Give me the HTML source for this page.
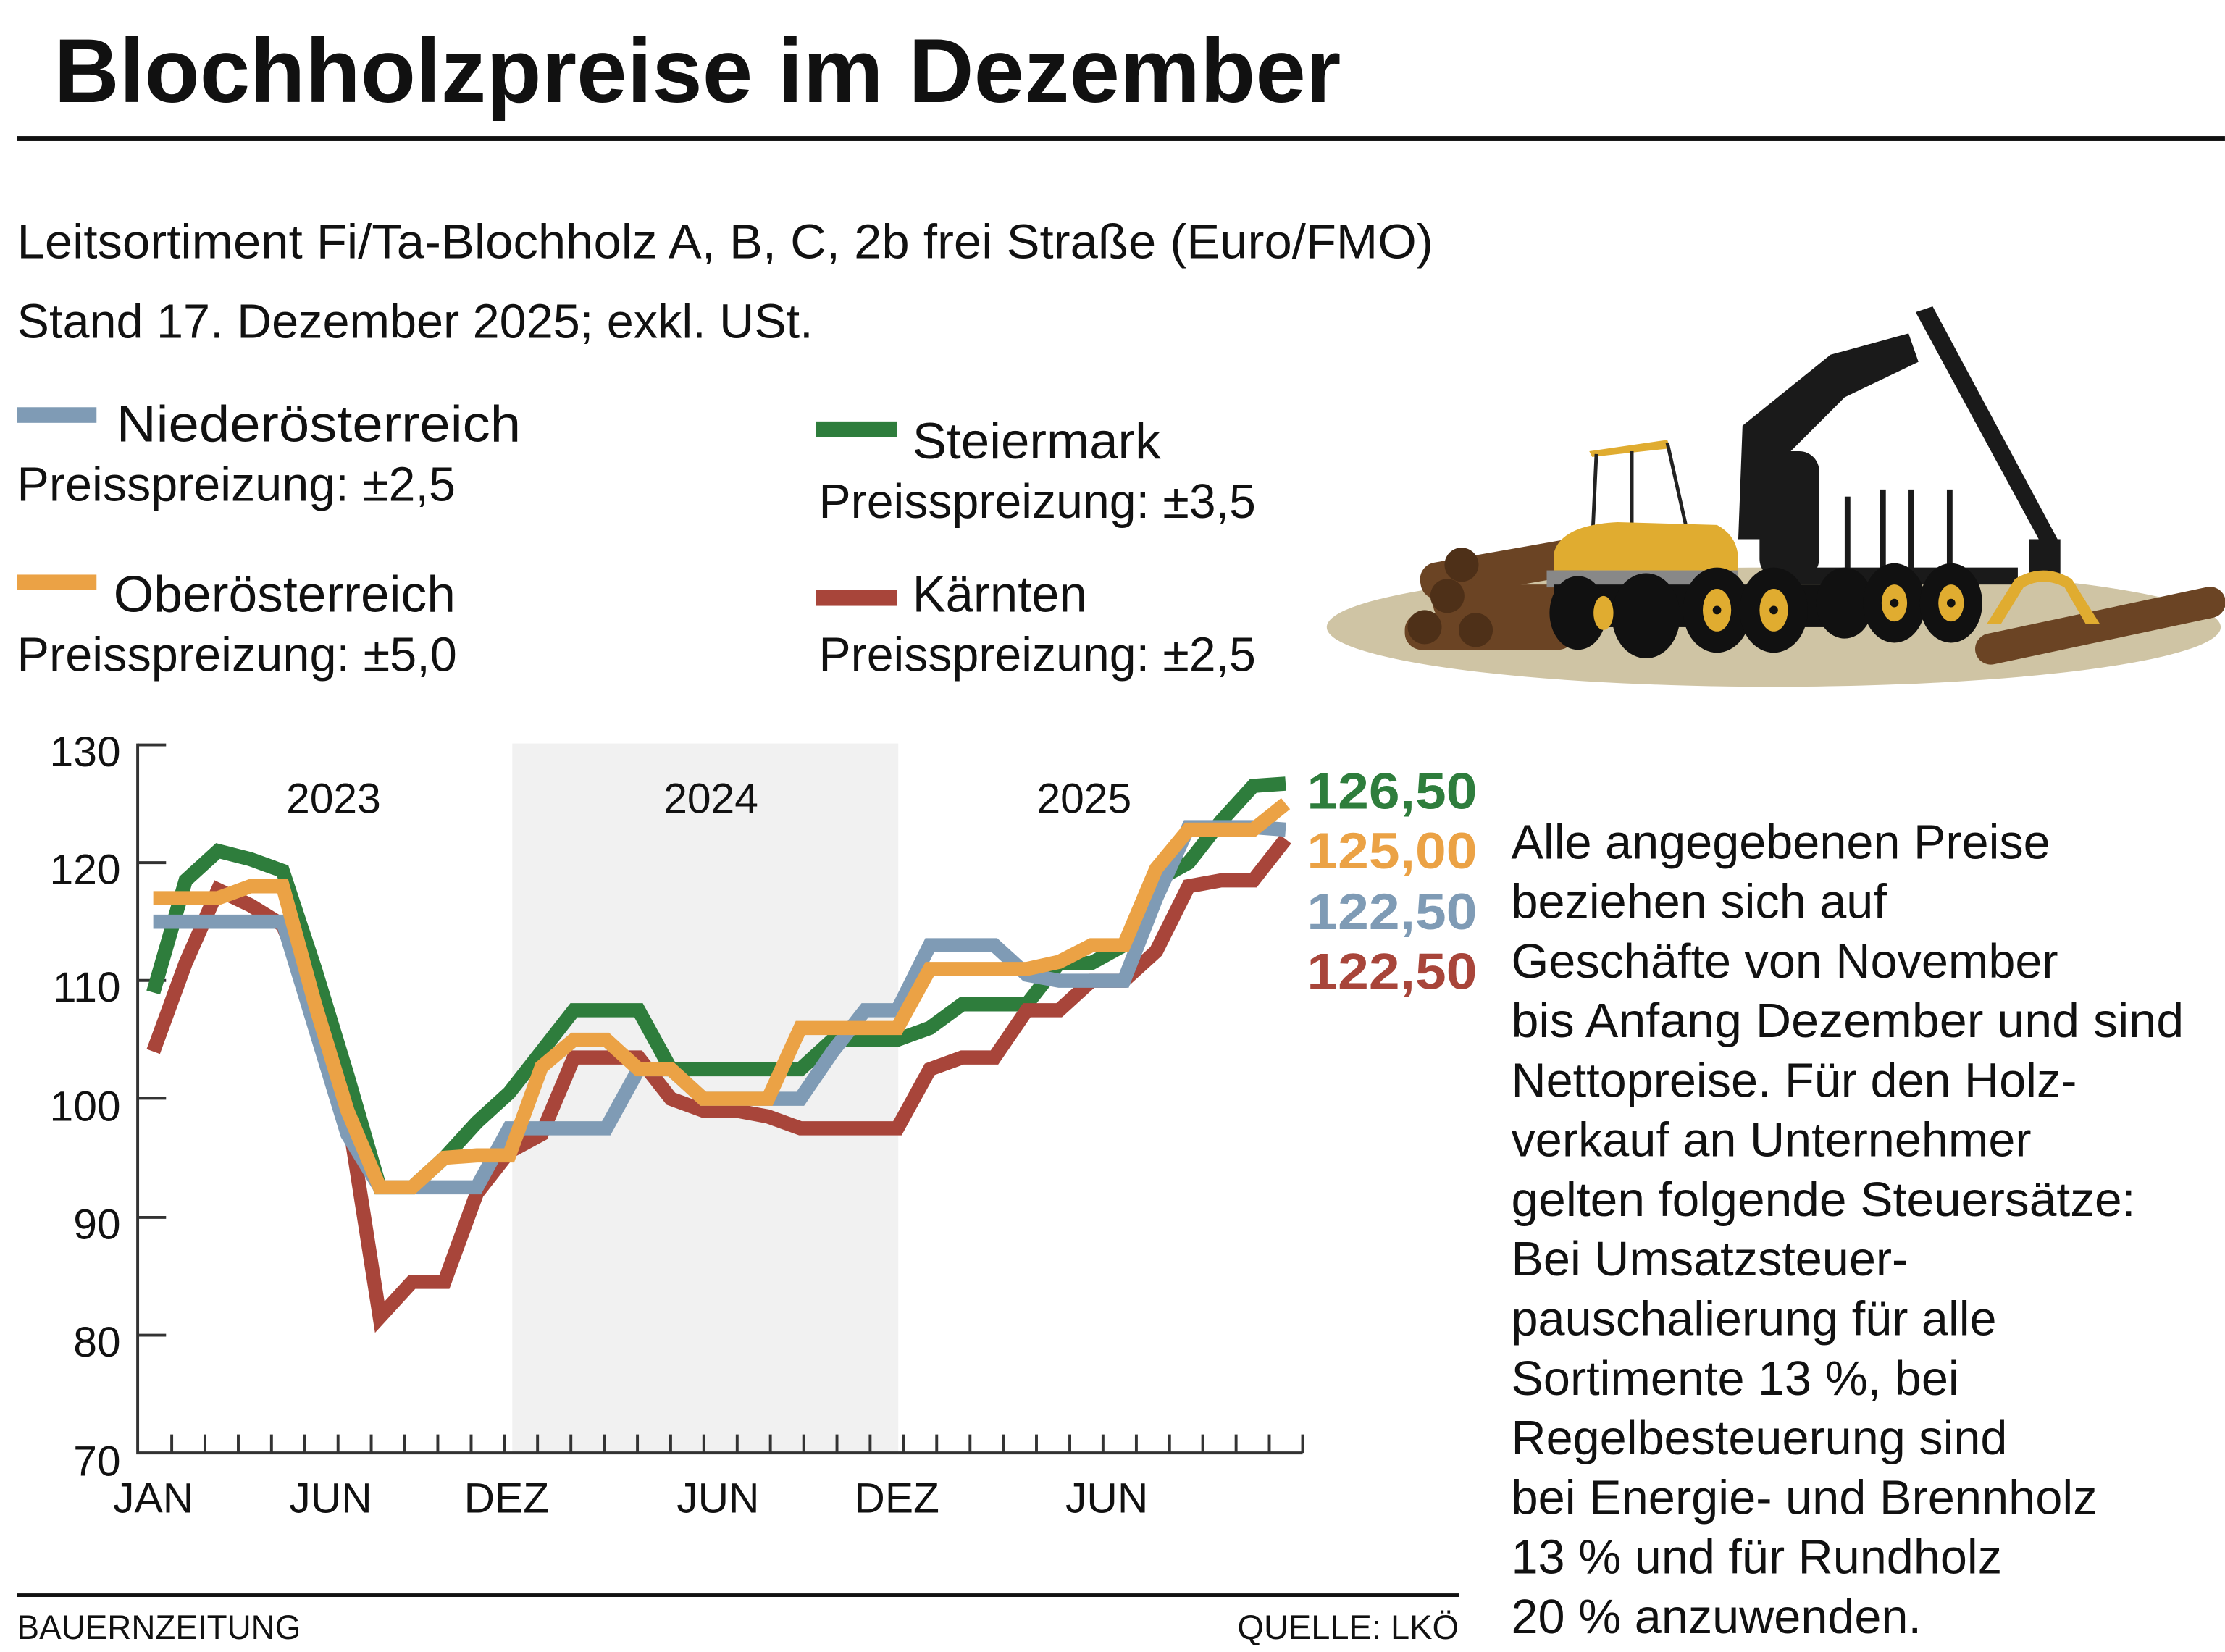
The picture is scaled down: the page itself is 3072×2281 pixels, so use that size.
<!DOCTYPE html>
<html><head><meta charset="utf-8">
<style>
html,body{margin:0;padding:0;background:#fff;}
svg{display:block;}
text{font-family:"Liberation Sans",sans-serif;}
</style></head>
<body>
<svg id="s" width="3072" height="2281" viewBox="0 0 1568 1164.3" xmlns="http://www.w3.org/2000/svg" fill="#111">
<rect x="0" y="0" width="1568" height="1165" fill="#fff"/>
<text x="38" y="72" font-size="64" font-weight="bold" textLength="907" lengthAdjust="spacingAndGlyphs">Blochholzpreise im Dezember</text>
<rect x="12" y="96" width="1556" height="3" fill="#111"/>
<text x="12" y="182" font-size="34" textLength="998" lengthAdjust="spacingAndGlyphs">Leitsortiment Fi/Ta-Blochholz A, B, C, 2b frei Straße (Euro/FMO)</text>
<text x="12" y="238" font-size="34" textLength="561" lengthAdjust="spacingAndGlyphs">Stand 17. Dezember 2025; exkl. USt.</text>

<rect x="12" y="287" width="56" height="11" fill="#7f9bb5"/>
<text x="82" y="311" font-size="36" textLength="285" lengthAdjust="spacingAndGlyphs">Niederösterreich</text>
<text x="12" y="353" font-size="34" textLength="309" lengthAdjust="spacingAndGlyphs">Preisspreizung: ±2,5</text>
<rect x="12" y="405" width="56" height="11" fill="#eba245"/>
<text x="80" y="431" font-size="36" textLength="241" lengthAdjust="spacingAndGlyphs">Oberösterreich</text>
<text x="12" y="473" font-size="34" textLength="310" lengthAdjust="spacingAndGlyphs">Preisspreizung: ±5,0</text>
<rect x="575" y="297" width="57" height="11" fill="#2e7d3c"/>
<text x="643" y="323" font-size="36" textLength="175" lengthAdjust="spacingAndGlyphs">Steiermark</text>
<text x="577" y="365" font-size="34" textLength="308" lengthAdjust="spacingAndGlyphs">Preisspreizung: ±3,5</text>
<rect x="575" y="416" width="57" height="11" fill="#a8453a"/>
<text x="643" y="431" font-size="36" textLength="123" lengthAdjust="spacingAndGlyphs">Kärnten</text>
<text x="577" y="473" font-size="34" textLength="308" lengthAdjust="spacingAndGlyphs">Preisspreizung: ±2,5</text>

<!-- illustration -->
<g>
<ellipse cx="1250" cy="442" rx="315" ry="42" fill="#cfc4a4"/>
<g fill="#6b4424">
<rect x="1000" y="388" width="120" height="26" rx="12" transform="rotate(-10 1060 400)"/>
<rect x="1010" y="412" width="110" height="26" rx="12"/>
<rect x="990" y="432" width="120" height="26" rx="12"/>
<rect x="1390" y="430" width="180" height="22" rx="11" transform="rotate(-12 1480 440)"/>
</g>
<g fill="#4e3018"><circle cx="1004" cy="442" r="12"/><circle cx="1020" cy="420" r="12"/><circle cx="1040" cy="444" r="12"/><circle cx="1030" cy="398" r="12"/></g>
<g fill="#1a1a1a">
<polygon points="1225,380 1228,300 1290,250 1345,235 1352,255 1300,280 1250,330 1248,380"/>
<polygon points="1350,220 1362,216 1450,380 1440,386"/>
<rect x="1240" y="318" width="42" height="90" rx="14"/>
<rect x="1300" y="350" width="4" height="60"/><rect x="1325" y="345" width="4" height="65"/><rect x="1345" y="345" width="4" height="65"/><rect x="1372" y="345" width="4" height="65"/>
<rect x="1262" y="400" width="160" height="12"/>
<rect x="1430" y="380" width="22" height="30"/>
</g>
<polygon points="1120,318 1175,310 1177,316 1122,322" fill="#e0ac30"/>
<g stroke="#222" stroke-width="2.5" fill="none"><path d="M1125,320 L1122,385 M1175,312 L1188,370 M1150,318 L1150,376"/></g>
<path d="M1095,390 Q1100,370 1140,368 L1210,370 Q1225,378 1225,395 L1225,402 L1095,402 Z" fill="#e0ac30"/>
<rect x="1090" y="402" width="135" height="12" fill="#888"/>
<path d="M1420,408 Q1440,396 1460,408 L1480,440 L1470,440 L1455,414 Q1440,406 1426,414 L1410,440 L1400,440 Z" fill="#e0ac30"/>
<g fill="#111"><rect x="1095" y="412" width="200" height="30"/></g>
<g>
<ellipse cx="1112" cy="432" rx="20" ry="26" fill="#111"/><ellipse cx="1160" cy="434" rx="24" ry="30" fill="#111"/><ellipse cx="1210" cy="430" rx="24" ry="30" fill="#111"/>
<ellipse cx="1250" cy="430" rx="24" ry="30" fill="#111"/><ellipse cx="1300" cy="425" rx="20" ry="25" fill="#111"/><ellipse cx="1335" cy="425" rx="22" ry="28" fill="#111"/><ellipse cx="1375" cy="425" rx="22" ry="28" fill="#111"/>
<g fill="#e0ac30"><ellipse cx="1210" cy="430" rx="10" ry="15"/><ellipse cx="1250" cy="430" rx="10" ry="15"/><ellipse cx="1335" cy="425" rx="9" ry="13"/><ellipse cx="1375" cy="425" rx="9" ry="13"/><ellipse cx="1130" cy="432" rx="7" ry="12"/></g>
<g fill="#111"><circle cx="1210" cy="430" r="3"/><circle cx="1250" cy="430" r="3"/><circle cx="1335" cy="425" r="3"/><circle cx="1375" cy="425" r="3"/></g>
</g>
</g>

<!-- chart -->
<rect x="361" y="524" width="272" height="500" fill="#f1f1f1"/>
<g font-size="30">
<text x="85" y="540" text-anchor="end">130</text>
<text x="85" y="623" text-anchor="end">120</text>
<text x="85" y="706" text-anchor="end">110</text>
<text x="85" y="790" text-anchor="end">100</text>
<text x="85" y="873" text-anchor="end">90</text>
<text x="85" y="956" text-anchor="end">80</text>
<text x="85" y="1040" text-anchor="end">70</text>
<text x="235" y="573" text-anchor="middle">2023</text>
<text x="501" y="573" text-anchor="middle">2024</text>
<text x="764" y="573" text-anchor="middle">2025</text>
<text x="108" y="1066" text-anchor="middle">JAN</text>
<text x="233" y="1066" text-anchor="middle">JUN</text>
<text x="357" y="1066" text-anchor="middle">DEZ</text>
<text x="506" y="1066" text-anchor="middle">JUN</text>
<text x="632" y="1066" text-anchor="middle">DEZ</text>
<text x="780" y="1066" text-anchor="middle">JUN</text>
</g>
<g id="axes" stroke="#333" stroke-width="2" fill="none">
<path d="M97,524 V1024 H918"/>
<path d="M97,525 H117 M97,608 H117 M97,691 H117 M97,774 H117 M97,858 H117 M97,941 H117"/>
</g>
<g id="lines" fill="none" stroke-width="10" stroke-linejoin="miter"></g>

<g font-size="36" font-weight="bold">
<text x="921" y="570" style="fill:#2e7d3c" textLength="120" lengthAdjust="spacingAndGlyphs">126,50</text>
<text x="921" y="612" style="fill:#eba245" textLength="120" lengthAdjust="spacingAndGlyphs">125,00</text>
<text x="921" y="655" style="fill:#7f9bb5" textLength="120" lengthAdjust="spacingAndGlyphs">122,50</text>
<text x="921" y="697" style="fill:#a8453a" textLength="120" lengthAdjust="spacingAndGlyphs">122,50</text>
</g>
<g font-size="34">
<text x="1065" y="605">Alle angegebenen Preise</text>
<text x="1065" y="647">beziehen sich auf</text>
<text x="1065" y="689">Geschäfte von November</text>
<text x="1065" y="731" textLength="474" lengthAdjust="spacingAndGlyphs">bis Anfang Dezember und sind</text>
<text x="1065" y="773">Nettopreise. Für den Holz-</text>
<text x="1065" y="815">verkauf an Unternehmer</text>
<text x="1065" y="857" textLength="440" lengthAdjust="spacingAndGlyphs">gelten folgende Steuersätze:</text>
<text x="1065" y="899">Bei Umsatzsteuer-</text>
<text x="1065" y="941">pauschalierung für alle</text>
<text x="1065" y="983">Sortimente 13 %, bei</text>
<text x="1065" y="1025">Regelbesteuerung sind</text>
<text x="1065" y="1067" textLength="413" lengthAdjust="spacingAndGlyphs">bei Energie- und Brennholz</text>
<text x="1065" y="1109">13 % und für Rundholz</text>
<text x="1065" y="1151">20 % anzuwenden.</text>
</g>
<rect x="12" y="1123" width="1016" height="2.5" fill="#111"/>
<text x="12" y="1155" font-size="24" textLength="200" lengthAdjust="spacingAndGlyphs">BAUERNZEITUNG</text>
<text x="1028" y="1155" font-size="24" text-anchor="end">QUELLE: LKÖ</text>
</svg>
<script>
(function(){
var NS="http://www.w3.org/2000/svg";
var ax=document.getElementById("axes");
var d="";
for(var k=0;k<35;k++){var x=121+k*23.44;d+="M"+x.toFixed(1)+",1024 V1011 ";}
var p=document.createElementNS(NS,"path");p.setAttribute("d",d);ax.appendChild(p);
var S={
g:[109,118.5,121,120.3,119.3,111,102,92.5,92.5,95,98,100.5,104,107.5,107.5,107.5,102.5,102.5,102.5,102.5,102.5,105,105,105,106,108,108,108,111.5,111.5,113,118.5,120,123.5,126.5,126.7],
r:[104,111.5,117.7,116.4,114.7,108,99,81.5,84.5,84.5,92,95.5,97,103.5,103.5,103.5,100,99,99,98.5,97.5,97.5,97.5,97.5,102.5,103.5,103.5,107.5,107.5,110,110,112.5,118,118.5,118.5,122],
b:[115,115,115,115,115,106,97,92.5,92.5,92.5,92.5,97.5,97.5,97.5,97.5,102.5,102.5,100,100,100,100,104,107.5,107.5,113,113,113,110.5,110,110,110,117,123,123,123,122.8],
o:[117,117,117,118,118,108,99,92.5,92.5,95,95.2,95.2,102.7,105,105,102.5,102.5,100,100,100,106,106,106,106,111,111,111,111,111.6,113,113,119.5,122.8,122.8,122.8,125]
};
var C={g:"#2e7d3c",r:"#a8453a",b:"#7f9bb5",o:"#eba245"};
var L=document.getElementById("lines");
["g","r","b","o"].forEach(function(k){
 var pts=S[k].map(function(v,i){return (108+22.8*i).toFixed(1)+","+(1024-(v-70)*8.32).toFixed(1);}).join(" ");
 var pl=document.createElementNS(NS,"polyline");pl.setAttribute("points",pts);pl.setAttribute("stroke",C[k]);L.appendChild(pl);
});
})();
</script>
</body></html>
